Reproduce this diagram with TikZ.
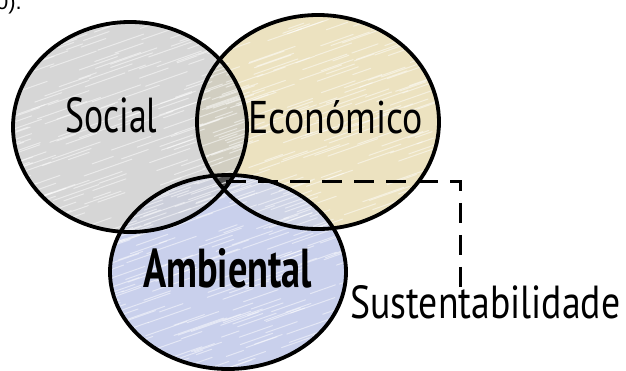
\documentclass[tikz,border=0pt]{standalone}
\usepackage{fontspec}
\usepackage{graphicx}
\setmainfont{PT Sans}
\newfontfamily\topfont{Liberation Sans}
\definecolor{socialfill}{HTML}{D6D6D6}
\definecolor{econfill}{HTML}{ECE2C0}
\definecolor{ambfill}{HTML}{C9D0EC}
\definecolor{sefill}{HTML}{D1CEC1}
\definecolor{safill}{HTML}{CCCFDB}
\definecolor{eafill}{HTML}{CFD4E6}
\definecolor{trifill}{HTML}{4E4E4E}
\begin{document}
\begin{tikzpicture}[x=1pt,y=-1pt,
  ring/.style={draw=black,line width=3.8pt},
  hatch/.style={draw=white,opacity=0.5,line width=1pt,line cap=round},
  word/.style={anchor=base west,inner sep=0pt,text=black,font=\fontsize{44}{50}\selectfont},
  link/.style={draw=black,line width=3pt,dash pattern=on 20pt off 12pt}]
\useasboundingbox (0,0) rectangle (626,370);
% base fills
\fill[socialfill] (130,127) ellipse [x radius=117pt, y radius=105pt];
\fill[econfill] (318,122) ellipse [x radius=121pt, y radius=107pt];
\fill[ambfill] (228,272) ellipse [x radius=118pt, y radius=97pt];
% pairwise overlaps
\begin{scope}
  \clip (130,127) ellipse [x radius=117pt, y radius=105pt];
  \fill[sefill] (318,122) ellipse [x radius=121pt, y radius=107pt];
  \fill[safill] (228,272) ellipse [x radius=118pt, y radius=97pt];
\end{scope}
\begin{scope}
  \clip (318,122) ellipse [x radius=121pt, y radius=107pt];
  \fill[eafill] (228,272) ellipse [x radius=118pt, y radius=97pt];
\end{scope}
% triple overlap
\begin{scope}
  \clip (130,127) ellipse [x radius=117pt, y radius=105pt];
  \clip (318,122) ellipse [x radius=121pt, y radius=107pt];
  \fill[trifill] (228,272) ellipse [x radius=118pt, y radius=97pt];
\end{scope}
% pencil texture
\pgfmathsetseed{7}
\begin{scope}
  \clip (130,127) ellipse [x radius=117pt, y radius=105pt];
  \foreach \k in {1,...,200}{
    \pgfmathsetmacro{\hx}{-20+250*rnd}
    \pgfmathsetmacro{\hy}{25+220*rnd}
    \pgfmathsetmacro{\hl}{15+35*rnd}
    \draw[hatch] (\hx,\hy) -- ++(\hl,-0.35*\hl);
  }
\end{scope}
\begin{scope}
  \clip (318,122) ellipse [x radius=121pt, y radius=107pt];
  \foreach \k in {1,...,200}{
    \pgfmathsetmacro{\hx}{170+260*rnd}
    \pgfmathsetmacro{\hy}{20+225*rnd}
    \pgfmathsetmacro{\hl}{15+35*rnd}
    \draw[hatch] (\hx,\hy) -- ++(\hl,-0.35*\hl);
  }
\end{scope}
\begin{scope}
  \clip (228,272) ellipse [x radius=118pt, y radius=97pt];
  \foreach \k in {1,...,200}{
    \pgfmathsetmacro{\hx}{80+260*rnd}
    \pgfmathsetmacro{\hy}{180+210*rnd}
    \pgfmathsetmacro{\hl}{15+35*rnd}
    \draw[hatch] (\hx,\hy) -- ++(\hl,-0.35*\hl);
  }
\end{scope}
% outlines
\draw[ring] (130,127) ellipse [x radius=117pt, y radius=105pt];
\draw[ring] (318,122) ellipse [x radius=121pt, y radius=107pt];
\draw[ring] (228,272) ellipse [x radius=118pt, y radius=97pt];
% labels
\node[word] (social) at (65,132) {\resizebox{92pt}{35pt}{Social}};
\node[word] (econ) at (248,133) {\resizebox{175pt}{33pt}{Económico}};
\node[word] (amb) at (143,287) {\resizebox{169pt}{39pt}{\bfseries Ambiental}};
\node[word] (sust) at (350,318) {\resizebox{270pt}{33pt}{Sustentabilidade}};
\node[anchor=base east,inner sep=0pt,font=\topfont\fontsize{22}{26}\selectfont] (frag) at (22,9.5) {0).};
% connector
\coordinate (core) at (226,181);
\draw[link] (core) -| ([xshift=-25pt,yshift=-4pt]sust.north);
\end{tikzpicture}
\end{document}
